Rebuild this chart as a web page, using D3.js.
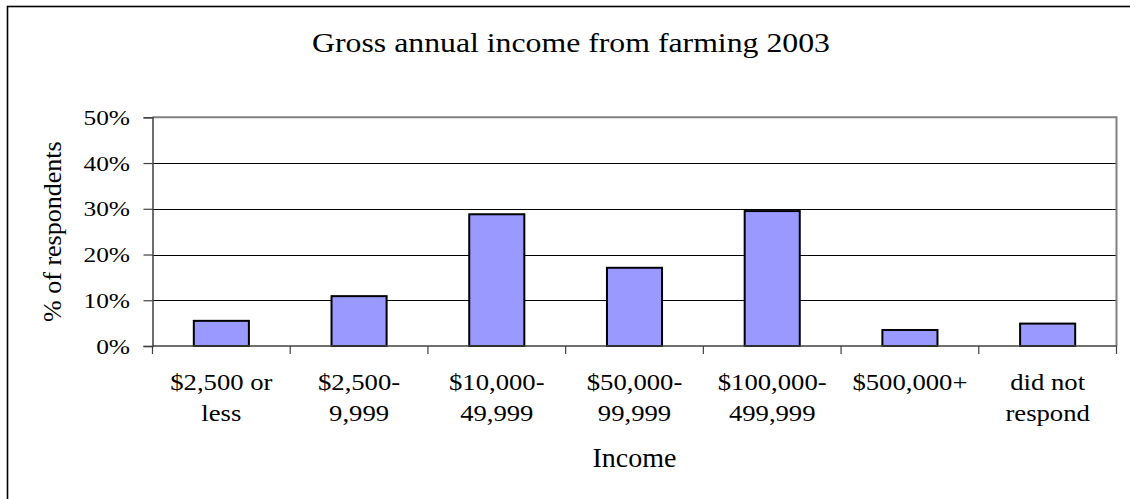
<!DOCTYPE html>
<html><head><meta charset="utf-8"><script src="https://cdn.jsdelivr.net/npm/d3@7"></script>
<style>
  svg text { font-family: "Times New Roman", "Liberation Serif", Tinos, serif !important; }
</style>
</head>
<body style="margin:0">
<svg id="s" width="1130" height="499"></svg>
<script>
// Survey results: share of respondents by gross annual farm income
const categories = [
  ["$2,500 or", "less"],
  ["$2,500-", "9,999"],
  ["$10,000-", "49,999"],
  ["$50,000-", "99,999"],
  ["$100,000-", "499,999"],
  ["$500,000+"],
  ["did not", "respond"]
];
const percentValues = [5.5, 10.9, 28.8, 17.1, 29.5, 3.5, 4.9];
const yTickValues = [0, 10, 20, 30, 40, 50];
const titleText = "Gross annual income from farming 2003";
const xTitle = "Income";
const yTitle = "% of respondents";

const FONT = "Times New Roman";
const svg = d3.select("#s");

// outer frame of the chart area
svg.append("rect")
  .attr("x", 7.5).attr("y", 6.5)
  .attr("width", 1140).attr("height", 510)
  .attr("fill", "#fff").attr("stroke", "#000").attr("stroke-width", 1.6);

const plot = { left: 152.5, right: 1116.5, top: 117.3, bottom: 346 };

const x = d3.scaleBand()
  .domain(d3.range(categories.length))
  .range([plot.left, plot.right])
  .paddingInner(0.6)
  .paddingOuter(0.3);

const y = d3.scaleLinear().domain([0, 50]).range([plot.bottom, plot.top]);

// horizontal gridlines
svg.append("g").selectAll("line")
  .data(yTickValues.filter(v => v > 0 && v < 50))
  .join("line")
  .attr("x1", plot.left).attr("x2", plot.right)
  .attr("y1", d => Math.round(y(d)) + 0.5).attr("y2", d => Math.round(y(d)) + 0.5)
  .attr("stroke", "#000").attr("stroke-width", 1);

// plot area border (top and right)
svg.append("path")
  .attr("d", `M${plot.left},${plot.top}H${plot.right}V${plot.bottom}`)
  .attr("fill", "none").attr("stroke", "#808080").attr("stroke-width", 2);

// bars
svg.append("g").selectAll("rect")
  .data(percentValues)
  .join("rect")
  .attr("x", (d, i) => x(i))
  .attr("y", d => y(d))
  .attr("width", x.bandwidth())
  .attr("height", d => y(0) - y(d))
  .attr("fill", "#9999FF")
  .attr("stroke", "#000")
  .attr("stroke-width", 2);

// y axis (tick marks and line; labels drawn separately)
const gy = svg.append("g")
  .attr("transform", `translate(${plot.left},0)`)
  .call(d3.axisLeft(y).tickValues(yTickValues).tickFormat("").tickSize(9));
gy.select(".domain").attr("stroke", "#404040").attr("stroke-width", 1.5);
gy.selectAll(".tick line").attr("stroke", "#404040").attr("stroke-width", 1.2);

svg.append("g").selectAll("text")
  .data(yTickValues)
  .join("text")
  .attr("transform", d => `translate(130,${y(d) + 7.7}) scale(1.27,1)`)
  .attr("text-anchor", "end")
  .style("font-family", FONT)
  .attr("font-size", 20)
  .text(d => d + "%");

// x axis: tick marks sit at the category boundaries
const step = x.step();
const boundaries = d3.range(categories.length + 1).map(i => plot.left + i * step);
const gx = svg.append("g");
gx.append("line")
  .attr("x1", plot.left).attr("x2", plot.right)
  .attr("y1", plot.bottom).attr("y2", plot.bottom)
  .attr("stroke", "#404040").attr("stroke-width", 1.5);
gx.selectAll("line.tick")
  .data(boundaries)
  .join("line")
  .attr("class", "tick")
  .attr("x1", d => d).attr("x2", d => d)
  .attr("y1", plot.bottom).attr("y2", plot.bottom + 8)
  .attr("stroke", "#404040").attr("stroke-width", 1.2);

// category labels
const catLabels = svg.append("g").selectAll("text")
  .data(categories)
  .join("text")
  .attr("text-anchor", "middle")
  .attr("transform", (d, i) => `translate(${x(i) + x.bandwidth() / 2},390) scale(1.16,1)`)
  .style("font-family", FONT)
  .attr("font-size", 23);
catLabels.selectAll("tspan")
  .data(d => d)
  .join("tspan")
  .attr("x", 0)
  .attr("dy", (d, i) => i === 0 ? 0 : 31)
  .text(d => d);

// title
svg.append("text")
  .attr("transform", "translate(571,51.5) scale(1.135,1)")
  .attr("text-anchor", "middle")
  .style("font-family", FONT)
  .attr("font-size", 28)
  .text(titleText);

// axis titles
svg.append("text")
  .attr("x", (plot.left + plot.right) / 2).attr("y", 466.5)
  .attr("text-anchor", "middle")
  .style("font-family", FONT)
  .attr("font-size", 28)
  .text(xTitle);

svg.append("text")
  .attr("transform", `translate(61,${(plot.top + plot.bottom) / 2}) rotate(-90)`)
  .attr("text-anchor", "middle")
  .style("font-family", FONT)
  .attr("font-size", 26)
  .text(yTitle);
</script>
</body>
</html>
